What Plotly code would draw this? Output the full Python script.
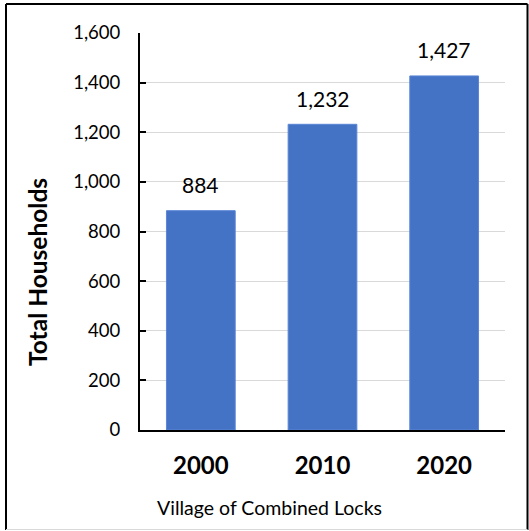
import plotly.graph_objects as go

years = ["2000", "2010", "2020"]
households = [884, 1232, 1427]
y_ticks = [0, 200, 400, 600, 800, 1000, 1200, 1400, 1600]

W, H = 529, 531
L, R, T, B = 140, 505, 33, 430

def px(x):
    return (x - L) / (R - L)

def py(y):
    return (B - y) / (B - T)

fig = go.Figure()
fig.add_trace(go.Bar(
    x=years, y=households,
    marker=dict(color="#4472C4", line=dict(color="#5B86D6", width=1)),
))

for i, v in enumerate(households):
    fig.add_annotation(x=i, y=v, xref="x", yref="y", text=f"{v:,}", showarrow=False,
                       yanchor="middle", yshift=26,
                       font=dict(family="Lato", size=21, color="#000000"))

fig.add_annotation(x=px(37), y=py(272), xref="paper", yref="paper",
                   text="<b>Total Households</b>", textangle=-90, showarrow=False,
                   xanchor="center", yanchor="middle",
                   font=dict(family="Lato", size=24.5, color="#000000"))
fig.add_annotation(x=px(269), y=py(507), xref="paper", yref="paper",
                   text="Village of Combined Locks", showarrow=False,
                   xanchor="center", yanchor="middle",
                   font=dict(family="Lato", size=19.5, color="#000000"))

# outer frame
frame = [
    (6, 4, 6, 530, "#000000", 2),
    (6, 4, 527.5, 4, "#000000", 2),
    (527.5, 4, 527.5, 530, "#000000", 2),
    (6, 529.5, 527.5, 529.5, "#D9D9D9", 1),
]
for x0, y0, x1, y1, c, w in frame:
    fig.add_shape(type="line", xref="paper", yref="paper",
                  x0=px(x0), y0=py(y0), x1=px(x1), y1=py(y1),
                  line=dict(color=c, width=w))

fig.update_layout(
    width=W, height=H,
    margin=dict(l=L, r=W - R, t=T, b=H - B, pad=0),
    paper_bgcolor="white", plot_bgcolor="white",
    showlegend=False,
    bargap=0.435,
    font=dict(family="Lato", color="#000000"),
)
fig.update_xaxes(
    type="category", range=[-0.5, len(years) - 0.5],
    tickvals=years, ticktext=[f"<b>{y}</b>" for y in years],
    showline=True, linecolor="#000000", linewidth=2,
    ticks="", showgrid=False,
    tickfont=dict(family="Lato", size=24, color="#000000"),
    ticklabelstandoff=13,
)
fig.update_yaxes(
    range=[0, 1600], tickvals=y_ticks,
    tickformat=",d",
    showline=True, linecolor="#000000", linewidth=2,
    ticks="inside", ticklen=6, tickwidth=2, tickcolor="#000000",
    showgrid=True, gridcolor="#D9D9D9", gridwidth=1,
    zeroline=False,
    tickfont=dict(family="Lato", size=18.5, color="#000000"),
    ticklabelstandoff=14,
)

fig.write_html("out.html", config={"displayModeBar": False},
               post_script="document.body.style.margin='0';")
